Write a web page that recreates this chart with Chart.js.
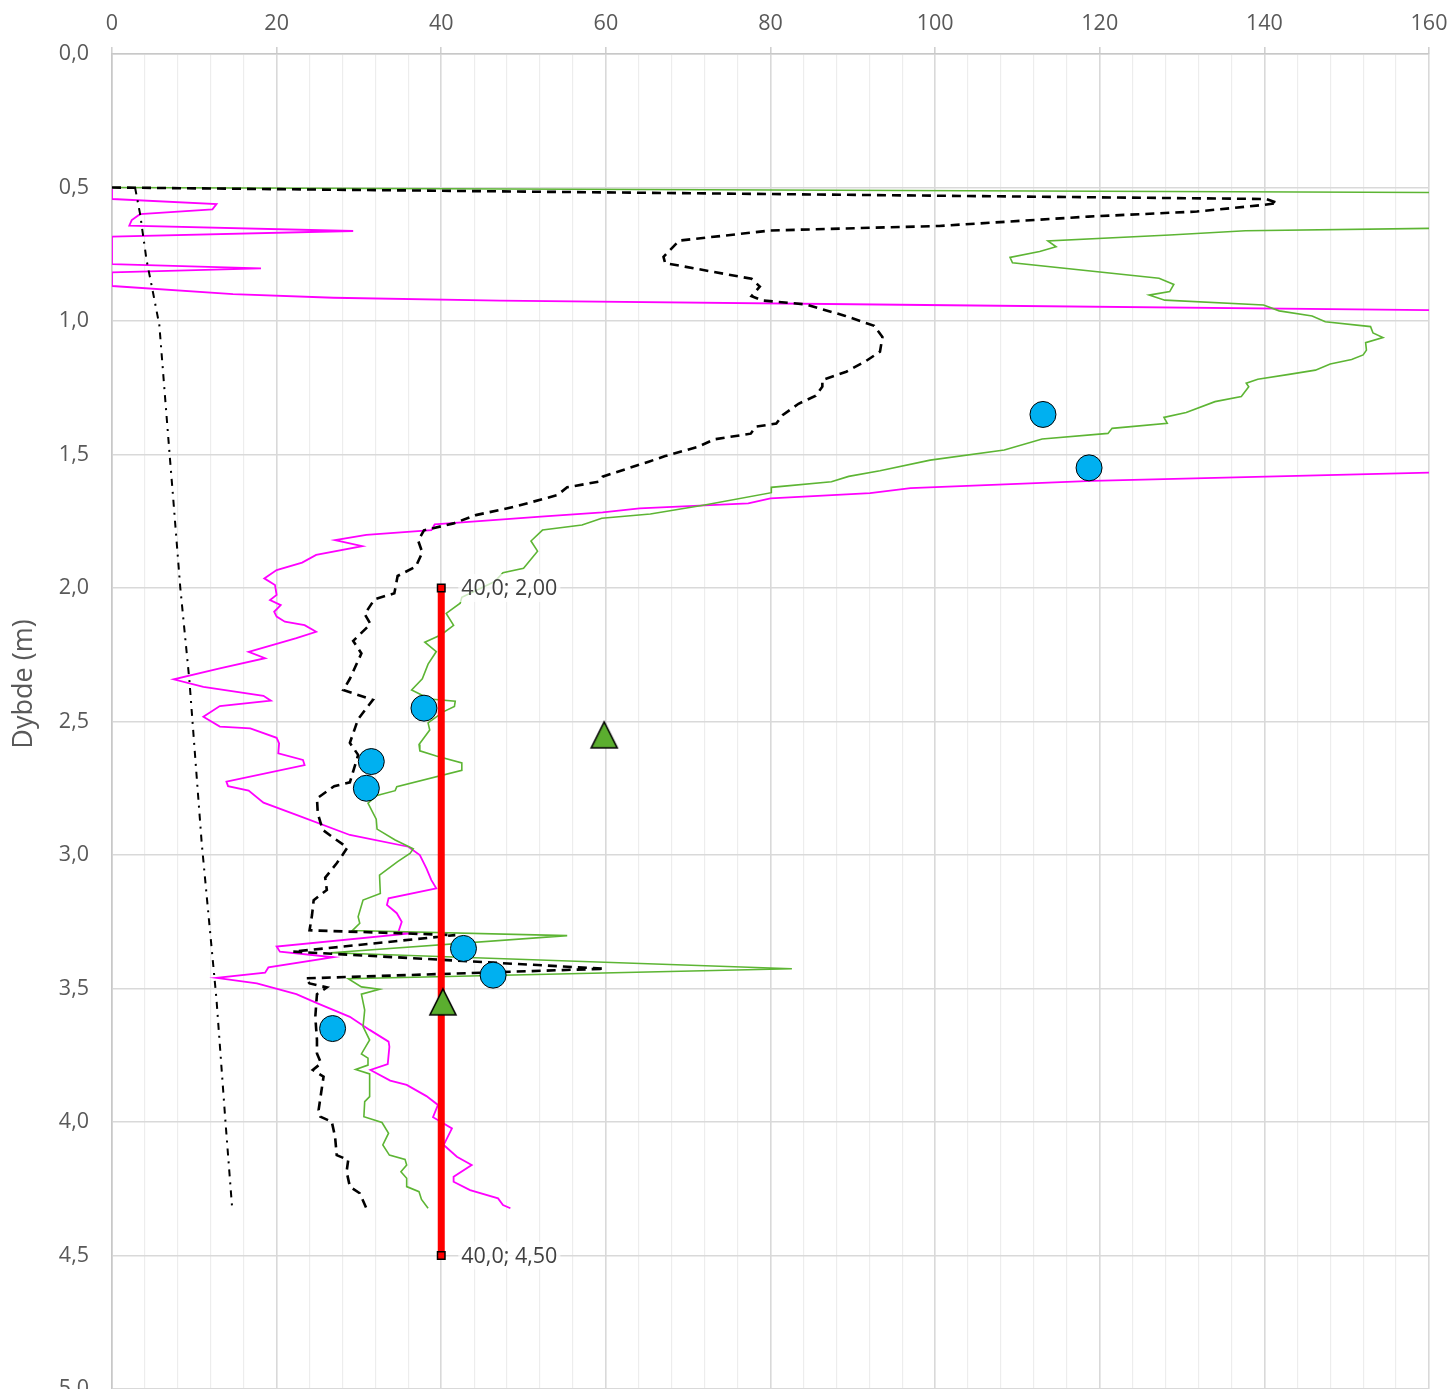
<!DOCTYPE html>
<html>
<head>
<meta charset="utf-8">
<script src="https://cdn.jsdelivr.net/npm/chart.js@4/dist/chart.umd.min.js"></script>
<style>
  html, body { margin: 0; padding: 0; background: #ffffff; overflow: hidden; }
  canvas { display: block; }
</style>
</head>
<body>
<canvas id="profile" width="1451" height="1420"></canvas>
<script>
// Axis tick labels
const valueTickLabels = [0, 20, 40, 60, 80, 100, 120, 140, 160];
const depthTickLabels = [0, 0.5, 1, 1.5, 2, 2.5, 3, 3.5, 4, 4.5, 5];

// Sounding profiles as [value, depth (m)]; [null, null] marks a break where the trace leaves the plot
const profileMagenta = [
  [0,0.506],[0,0.543],[12.7,0.562],[12.2,0.582],[3.4,0.600],[2.4,0.622],[2.1,0.643],[29.3,0.663],
  [0,0.684],[0,0.787],[18.1,0.803],[0,0.818],[0,0.869],[14.7,0.899],[26.9,0.913],[47.1,0.924],
  [98.8,0.940],[160.2,0.959],[null,null],
  [160.2,1.568],[119.1,1.599],[97.0,1.626],[92.1,1.645],[80.0,1.664],[77.3,1.683],[64.1,1.702],
  [59.6,1.717],[52.1,1.733],[39.2,1.762],[38.8,1.783],[30.9,1.801],[27.1,1.821],[30.4,1.843],
  [24.8,1.876],[23.1,1.905],[20.0,1.933],[18.5,1.964],[19.8,1.989],[20.0,2.026],[19.2,2.045],
  [20.5,2.064],[19.7,2.089],[20.0,2.107],[21.0,2.126],[23.4,2.139],[24.8,2.164],[22.4,2.188],
  [20.2,2.207],[16.6,2.239],[18.6,2.263],[13.1,2.301],[7.5,2.342],[11.1,2.370],[18.4,2.404],
  [19.3,2.422],[13.1,2.442],[11.1,2.482],[13.1,2.519],[16.8,2.526],[20.0,2.561],[20.3,2.582],
  [20.2,2.619],[23.2,2.644],[23.4,2.663],[13.9,2.725],[14.1,2.742],[16.6,2.759],[18.4,2.804],
  [22.4,2.850],[28.9,2.925],[36.0,2.969],[37.4,3.000],[38.2,3.050],[38.8,3.094],[39.4,3.125],
  [33.6,3.162],[33.4,3.187],[34.6,3.218],[35.2,3.250],[34.8,3.287],[36.5,3.293],[20.0,3.343],
  [20.4,3.362],[26.9,3.383],[19.0,3.421],[18.6,3.441],[12.7,3.460],[17.6,3.481],[22.4,3.521],
  [24.9,3.555],[28.9,3.606],[31.3,3.655],[33.6,3.699],[33.7,3.718],[33.5,3.783],[31.4,3.805],
  [33.8,3.845],[35.8,3.861],[38.2,3.903],[39.6,3.936],[39.0,3.982],[41.3,4.024],[40.3,4.086],
  [41.9,4.130],[43.7,4.161],[41.5,4.205],[41.5,4.224],[43.5,4.255],[46.9,4.286],[47.5,4.311],
  [48.4,4.323]
];

const profileGreen = [
  [0,0.500],[160.2,0.519],[null,null],
  [160.2,0.653],[137.7,0.662],[128.5,0.678],[113.7,0.700],[114.7,0.722],[112.7,0.740],[109.1,0.762],
  [109.4,0.782],[127.2,0.840],[129.0,0.863],[128.5,0.890],[126.0,0.903],[127.9,0.922],[139.9,0.940],
  [141.8,0.962],[145.8,0.981],[147.4,1.003],[152.9,1.021],[153.2,1.045],[154.4,1.062],[152.3,1.081],
  [152.4,1.109],[152.0,1.127],[150.6,1.144],[148.0,1.161],[146.2,1.184],[143.0,1.200],[139.2,1.218],
  [137.8,1.233],[138.1,1.246],[137.2,1.283],[134.0,1.302],[130.5,1.343],[127.8,1.361],[128.2,1.383],
  [121.5,1.402],[121.0,1.421],[113.0,1.442],[108.4,1.483],[99.4,1.521],[93.3,1.561],[89.5,1.582],
  [87.4,1.602],[80.1,1.623],[80.1,1.643],[72.0,1.689],[65.4,1.723],[59.5,1.739],[57.1,1.764],
  [52.3,1.783],[50.9,1.824],[51.7,1.862],[50.0,1.926],[47.5,1.943],[46.5,1.976],[42.5,2.035],
  [42.3,2.057],[40.6,2.095],[41.5,2.140],[40.0,2.175],[38.0,2.203],[39.4,2.238],[38.4,2.285],
  [37.7,2.340],[36.4,2.382],[38.6,2.416],[41.7,2.424],[41.6,2.444],[40.3,2.463],[38.4,2.505],
  [38.6,2.532],[37.3,2.586],[37.4,2.610],[39.4,2.629],[42.5,2.655],[42.5,2.683],[34.6,2.744],
  [34.4,2.759],[32.2,2.777],[31.1,2.806],[32.1,2.866],[32.2,2.903],[34.4,2.944],[36.6,2.977],
  [36.2,2.994],[34.7,3.025],[32.5,3.075],[32.6,3.144],[30.5,3.169],[29.9,3.231],[30.1,3.256],
  [29.2,3.283],[55.3,3.302],[26.6,3.366],[82.6,3.426],[28.7,3.463],[30.3,3.494],[32.5,3.503],
  [30.3,3.521],[30.7,3.581],[30.5,3.643],[31.3,3.693],[30.3,3.745],[31.1,3.761],[31.1,3.787],
  [29.6,3.803],[31.3,3.820],[31.3,3.905],[30.7,3.924],[30.6,3.980],[32.8,4.002],[33.6,4.042],
  [32.9,4.086],[33.7,4.124],[35.6,4.140],[35.8,4.161],[35.1,4.186],[35.8,4.211],[35.8,4.242],
  [37.3,4.261],[37.6,4.290],[38.4,4.323]
];

const profileDashed = [
  [0,0.500],[140.2,0.543],[141.6,0.558],[140.0,0.565],[131.8,0.590],[118.6,0.609],[100.5,0.644],
  [80.0,0.661],[68.9,0.699],[67.0,0.760],[67.2,0.783],[77.7,0.842],[78.7,0.871],[77.7,0.907],
  [79.0,0.923],[84.3,0.938],[89.0,0.980],[92.6,1.018],[93.6,1.060],[93.3,1.115],[91.5,1.152],
  [89.2,1.190],[86.3,1.221],[86.3,1.246],[85.5,1.280],[83.4,1.310],[81.5,1.352],[80.7,1.384],
  [78.2,1.396],[77.6,1.422],[73.2,1.443],[71.2,1.471],[67.2,1.506],[65.2,1.527],[59.6,1.583],
  [59.1,1.602],[55.3,1.623],[54.1,1.652],[49.0,1.695],[44.2,1.727],[41.5,1.758],[37.9,1.784],
  [37.2,1.823],[37.7,1.867],[36.9,1.920],[34.7,1.955],[34.3,2.020],[31.9,2.042],[30.7,2.098],
  [31.4,2.135],[29.3,2.198],[30.3,2.245],[28.9,2.340],[28.1,2.382],[31.7,2.419],[29.9,2.491],
  [28.9,2.580],[29.9,2.625],[28.9,2.728],[27.0,2.742],[24.9,2.788],[25.0,2.844],[25.6,2.906],
  [27.1,2.940],[28.6,2.972],[28.0,3.000],[27.3,3.031],[25.9,3.085],[26.1,3.131],[24.5,3.169],
  [24.3,3.225],[24.0,3.282],[41.7,3.300],[22.0,3.362],[59.8,3.426],[23.5,3.462],[24.0,3.481],
  [26.1,3.496],[24.9,3.521],[24.7,3.606],[24.9,3.693],[24.9,3.743],[25.4,3.780],[24.4,3.805],
  [25.7,3.830],[25.1,3.955],[25.3,3.980],[26.7,3.999],[27.1,4.055],[27.3,4.124],[28.7,4.142],
  [28.5,4.186],[28.9,4.242],[30.1,4.267],[30.9,4.323]
];

const profileDashDot = [
  [2.8,0.500],[3.4,0.597],[4.2,0.772],[5.0,0.896],[5.75,1.015],[7.0,1.500],[7.45,1.670],
  [8.3,2.000],[9.4,2.345],[10.9,2.956],[12.7,3.543],[13.8,4.005],[14.6,4.323]
];

// Single measurements
const circleValues = [113.1, 118.7, 37.9, 31.5, 30.9, 42.7, 46.3, 26.8];
const circleDepths = [1.35, 1.55, 2.45, 2.65, 2.75, 3.35, 3.45, 3.65];
const triangleValues = [59.8, 40.2];
const triangleDepths = [2.55, 3.55];

// Design line
const designValues = [40.0, 40.0];
const designDepths = [2.00, 4.50];

const toPoints = (pairs) => pairs.map(([v, d]) => ({ x: v, y: d }));
const zipPoints = (xs, ys) => xs.map((v, i) => ({ x: v, y: ys[i] }));
const comma = (v, n) => v.toFixed(n).replace('.', ',');

// Green triangle marker, centred on its bounding box
function makeTriangle() {
  const c = document.createElement('canvas');
  c.width = 30; c.height = 30;
  const g = c.getContext('2d');
  g.beginPath();
  g.moveTo(15, 2);
  g.lineTo(28, 28);
  g.lineTo(2, 28);
  g.closePath();
  g.fillStyle = '#5BAE2F';
  g.fill();
  g.lineWidth = 1.6;
  g.strokeStyle = '#000000';
  g.lineJoin = 'miter';
  g.stroke();
  return c;
}

const FONT_FAMILY = '"Open Sans", "DejaVu Sans", sans-serif';
Chart.defaults.font.family = FONT_FAMILY;
Chart.defaults.font.size = 21.5;
Chart.defaults.color = '#595959';

const DESIGN_INDEX = 2;

const overlay = {
  id: 'overlay',
  afterDatasetsDraw(chart) {
    const ctx = chart.ctx;
    const ds = chart.data.datasets[DESIGN_INDEX];
    const meta = chart.getDatasetMeta(DESIGN_INDEX);
    ctx.save();
    ctx.font = '21.5px ' + FONT_FAMILY;
    ctx.textBaseline = 'middle';
    ctx.textAlign = 'left';
    meta.data.forEach((pt, i) => {
      const p = ds.data[i];
      const text = comma(p.x, 1) + '; ' + comma(p.y, 2);
      const w = ctx.measureText(text).width;
      const x = pt.x + 20, y = pt.y;
      ctx.fillStyle = 'rgba(255,255,255,0.7)';
      ctx.fillRect(x - 3, y - 14, w + 6, 28);
      ctx.fillStyle = '#404040';
      ctx.fillText(text, x, y + 1);
    });
    ctx.restore();
  },
  afterDraw(chart) {
    const ctx = chart.ctx;
    ctx.save();
    ctx.translate(24, 684);
    ctx.rotate(-Math.PI / 2);
    ctx.font = '27px ' + FONT_FAMILY;
    ctx.fillStyle = '#595959';
    ctx.textAlign = 'center';
    ctx.textBaseline = 'middle';
    ctx.fillText('Dybde (m)', 0, 0);
    ctx.restore();
  }
};

new Chart(document.getElementById('profile'), {
  type: 'scatter',
  data: {
    datasets: [
      {
        data: zipPoints(triangleValues, triangleDepths),
        pointStyle: makeTriangle(),
        pointRadius: 15,
        showLine: false,
        order: 0
      },
      {
        data: zipPoints(circleValues, circleDepths),
        pointStyle: 'circle',
        pointRadius: 13,
        pointBackgroundColor: '#00B0F0',
        pointBorderColor: '#000000',
        pointBorderWidth: 1,
        showLine: false,
        order: 1
      },
      {
        data: zipPoints(designValues, designDepths),
        showLine: true,
        borderColor: '#FF0000',
        borderWidth: 7,
        pointStyle: 'rect',
        pointRadius: 5.3,
        pointBackgroundColor: '#FF0000',
        pointBorderColor: '#000000',
        pointBorderWidth: 1.5,
        order: 2
      },
      {
        data: toPoints(profileDashDot),
        showLine: true,
        borderColor: '#000000',
        borderWidth: 2,
        borderDash: [7, 6, 2, 6],
        pointRadius: 0,
        order: 3
      },
      {
        data: toPoints(profileDashed),
        showLine: true,
        borderColor: '#000000',
        borderWidth: 2.6,
        borderDash: [9, 6],
        pointRadius: 0,
        order: 4
      },
      {
        data: toPoints(profileGreen),
        showLine: true,
        borderColor: '#5DB534',
        borderWidth: 1.6,
        pointRadius: 0,
        order: 5
      },
      {
        data: toPoints(profileMagenta),
        showLine: true,
        borderColor: '#FF00FF',
        borderWidth: 1.8,
        pointRadius: 0,
        order: 6
      }
    ]
  },
  options: {
    responsive: false,
    animation: false,
    events: [],
    layout: { padding: { left: 0, right: 22, top: 0, bottom: 31 } },
    plugins: { legend: { display: false }, tooltip: { enabled: false } },
    scales: {
      x: {
        type: 'linear',
        position: 'top',
        min: 0,
        max: 160,
        afterFit: (s) => { s.height = 54; s.paddingLeft = 0; s.paddingRight = 0; },
        ticks: {
          stepSize: 4,
          autoSkip: false,
          maxRotation: 0,
          padding: 10,
          color: '#595959',
          callback: (v) => valueTickLabels.includes(v) ? String(v) : ''
        },
        grid: {
          color: (c) => (c.tick && valueTickLabels.includes(c.tick.value)) ? '#D9D9D9' : '#EDEDED',
          lineWidth: (c) => (c.tick && valueTickLabels.includes(c.tick.value)) ? 1.6 : 1.2,
          drawTicks: true,
          tickLength: 7,
          tickColor: (c) => (c.tick && valueTickLabels.includes(c.tick.value)) ? '#D0D0D0' : 'rgba(0,0,0,0)',
          tickWidth: 1.6
        },
        border: { color: '#C8C8C8', width: 1.6 }
      },
      y: {
        type: 'linear',
        position: 'left',
        reverse: true,
        min: 0,
        max: 5,
        afterFit: (s) => { s.width = 112; s.paddingTop = 0; s.paddingBottom = 0; },
        afterBuildTicks: (s) => { s.ticks = depthTickLabels.map(v => ({ value: v })); },
        ticks: {
          padding: 23,
          color: '#595959',
          callback: (v) => comma(v, 1)
        },
        grid: {
          color: '#D9D9D9',
          lineWidth: 1.6,
          drawTicks: false
        },
        border: { color: '#C8C8C8', width: 1.6 }
      }
    }
  },
  plugins: [overlay]
});
</script>
</body>
</html>
